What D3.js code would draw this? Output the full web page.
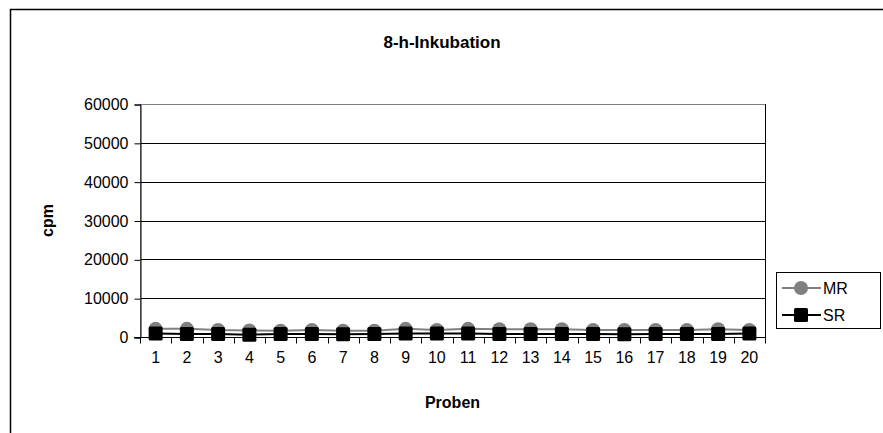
<!DOCTYPE html>
<html>
<head>
<meta charset="utf-8">
<script src="https://cdn.jsdelivr.net/npm/d3@7"></script>
<style>
  html, body { margin: 0; padding: 0; background: #fff; }
  svg { display: block; font-family: "Liberation Sans", Arial, sans-serif; }
</style>
</head>
<body>
<svg id="chart" width="883" height="433"></svg>
<script>
// Proben 1–20, counts per minute after 8 h incubation
const categories = d3.range(1, 21).map(String);
const mrValues = [2100, 2100, 1800, 1700, 1600, 1800, 1600, 1600, 2100, 1800,
                  2100, 2000, 2000, 2000, 1800, 1800, 1800, 1800, 2000, 1800];
const srValues = [900, 800, 800, 600, 800, 800, 700, 800, 900, 900,
                  900, 800, 800, 800, 800, 700, 800, 800, 800, 900];
const yTicks = [0, 10000, 20000, 30000, 40000, 50000, 60000];
const seriesNames = ["MR", "SR"];

const svg = d3.select("#chart");

// chart frame
svg.append("rect")
  .attr("x", 10.5).attr("y", 9.5)
  .attr("width", 900).attr("height", 500)
  .attr("fill", "#fff").attr("stroke", "#000").attr("stroke-width", 1.5);

const plot = { left: 140, right: 765, top: 104, bottom: 337 };

const x = d3.scaleBand().domain(categories).range([plot.left, plot.right]);
const y = d3.scaleLinear().domain([0, 60000]).range([plot.bottom, plot.top]);

// gridlines
svg.append("g").selectAll("line")
  .data(yTicks.filter(d => d > 0 && d < 60000))
  .join("line")
  .attr("x1", plot.left).attr("x2", plot.right)
  .attr("y1", d => Math.round(y(d)) + 0.5).attr("y2", d => Math.round(y(d)) + 0.5)
  .attr("stroke", "#000").attr("stroke-width", 1);

// plot area border
svg.append("rect")
  .attr("x", plot.left + 0.5).attr("y", plot.top + 0.5)
  .attr("width", plot.right - plot.left).attr("height", plot.bottom - plot.top)
  .attr("fill", "none").attr("stroke", "#808080").attr("stroke-width", 1);
svg.append("line")
  .attr("x1", plot.right + 0.5).attr("x2", plot.right + 0.5)
  .attr("y1", plot.top).attr("y2", plot.bottom)
  .attr("stroke", "#000");

// y axis
const yAxis = d3.axisLeft(y).tickValues(yTicks).tickSize(6).tickPadding(6)
  .tickFormat(d3.format("d"));
const gy = svg.append("g")
  .attr("transform", `translate(${plot.left + 0.5},0.5)`)
  .call(yAxis);
gy.select(".domain").attr("stroke", "#000");
gy.selectAll(".tick line").attr("stroke", "#000");
gy.selectAll(".tick text")
  .attr("font-size", 16).attr("fill", "#000")
  .attr("font-family", "Liberation Sans, Arial, sans-serif");

// x axis: ticks at category boundaries
const gx = svg.append("g")
  .attr("transform", `translate(0,${plot.bottom + 0.5})`);
gx.append("line")
  .attr("x1", plot.left - 6).attr("x2", plot.right + 1)
  .attr("stroke", "#000");
gx.selectAll("line.tk")
  .data(d3.range(categories.length + 1))
  .join("line").attr("class", "tk")
  .attr("x1", i => Math.round(plot.left + i * x.bandwidth()) + 0.5)
  .attr("x2", i => Math.round(plot.left + i * x.bandwidth()) + 0.5)
  .attr("y1", 0).attr("y2", 6)
  .attr("stroke", "#000");
gx.selectAll("text")
  .data(categories)
  .join("text")
  .attr("x", d => x(d) + x.bandwidth() / 2)
  .attr("y", 25)
  .attr("text-anchor", "middle")
  .attr("font-size", 16)
  .text(d => d);

// series lines and markers
const cx = d => x(d) + x.bandwidth() / 2;
const line = d3.line().x(d => cx(d.c)).y(d => y(d.v));
const mr = categories.map((c, i) => ({ c, v: mrValues[i] }));
const sr = categories.map((c, i) => ({ c, v: srValues[i] }));

svg.append("path").datum(mr).attr("d", line)
  .attr("fill", "none").attr("stroke", "#808080").attr("stroke-width", 2);
svg.append("g").selectAll("circle").data(mr).join("circle")
  .attr("cx", d => cx(d.c)).attr("cy", d => y(d.v)).attr("r", 7)
  .attr("fill", "#808080");

svg.append("path").datum(sr).attr("d", line)
  .attr("fill", "none").attr("stroke", "#000").attr("stroke-width", 2);
const sq = 14;
svg.append("g").selectAll("rect").data(sr).join("rect")
  .attr("x", d => cx(d.c) - sq / 2).attr("y", d => y(d.v) - sq / 2)
  .attr("width", sq).attr("height", sq).attr("rx", 1.5)
  .attr("fill", "#000");

// titles
svg.append("text")
  .attr("x", 442).attr("y", 48)
  .attr("text-anchor", "middle")
  .attr("font-size", 17).attr("font-weight", "bold")
  .text("8-h-Inkubation");
svg.append("text")
  .attr("transform", `translate(53,${(plot.top + plot.bottom) / 2}) rotate(-90)`)
  .attr("text-anchor", "middle")
  .attr("font-size", 16).attr("font-weight", "bold")
  .text("cpm");
svg.append("text")
  .attr("x", (plot.left + plot.right) / 2).attr("y", 408)
  .attr("text-anchor", "middle")
  .attr("font-size", 16).attr("font-weight", "bold")
  .text("Proben");

// legend
const lg = svg.append("g").attr("transform", "translate(776,272)");
lg.append("rect")
  .attr("x", 0.5).attr("y", 0.5).attr("width", 104).attr("height", 56)
  .attr("fill", "#fff").attr("stroke", "#000");
const items = lg.selectAll("g.item")
  .data(seriesNames).join("g").attr("class", "item")
  .attr("transform", (d, i) => `translate(0,${16 + i * 27})`);
items.append("line")
  .attr("x1", 6).attr("x2", 45)
  .attr("stroke", (d, i) => i === 0 ? "#808080" : "#000")
  .attr("stroke-width", 2);
items.filter((d, i) => i === 0).append("circle")
  .attr("cx", 25).attr("cy", 0).attr("r", 7).attr("fill", "#808080");
items.filter((d, i) => i === 1).append("rect")
  .attr("x", 25 - sq / 2).attr("y", -sq / 2).attr("width", sq).attr("height", sq)
  .attr("rx", 1.5).attr("fill", "#000");
items.append("text")
  .attr("x", 47).attr("y", 6)
  .attr("font-size", 16)
  .text(d => d);
</script>
</body>
</html>
